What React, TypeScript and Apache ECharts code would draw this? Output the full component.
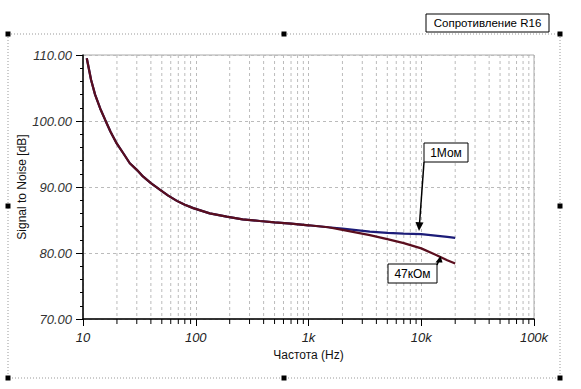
import React, { useEffect, useRef } from "react";
import * as echarts from "echarts";

// Frequency (Hz) and signal-to-noise (dB) readings
const commonFreq = [10.8, 11.8, 12.8, 14.2, 15.7, 17.5, 19.9, 23, 26, 30, 34, 40, 48, 57, 68, 80, 95, 133, 188, 260, 370, 500, 700, 1000, 1500];
const commonSnr = [109.5, 106.2, 104.0, 101.9, 100.2, 98.4, 96.6, 95.0, 93.6, 92.6, 91.6, 90.6, 89.6, 88.7, 87.9, 87.3, 86.8, 86.0, 85.5, 85.1, 84.85, 84.65, 84.45, 84.2, 83.9];

const tailFreq = [2000, 3500, 5000, 7000, 10000, 14000, 17000, 20000];
const snr1MOhm = [83.7, 83.25, 83.05, 82.95, 82.85, 82.6, 82.45, 82.3];
const snr47kOhm = [83.5, 82.7, 82.1, 81.5, 80.7, 79.6, 78.9, 78.4];

const yTicks = [70, 80, 90, 100, 110];
const minorFreqs: number[] = [];
[10, 100, 1000, 10000].forEach((d) => {
  for (let k = 2; k <= 9; k++) minorFreqs.push(k * d);
});

const FONT = "'Liberation Sans', Arial, sans-serif";

export default function App() {
  const ref = useRef<HTMLDivElement>(null);
  useEffect(() => {
    document.body.style.margin = "0";
    const chart = echarts.init(ref.current!, null, { renderer: "svg" });
    const common = commonFreq.map((f, i) => [f, commonSnr[i]]);
    const blue = common.concat(tailFreq.map((f, i) => [f, snr1MOhm[i]]));
    const red = common.concat(tailFreq.map((f, i) => [f, snr47kOhm[i]]));

    const handles = [
      [8, 34], [284, 34], [560, 34], [8, 206], [560, 206], [8, 378], [284, 378], [560, 378],
    ];

    chart.setOption({
      animation: false,
      backgroundColor: "#fff",
      grid: {
        left: 83, right: 47, top: 55, bottom: 70,
        show: true, borderColor: "#aaa", borderWidth: 1,
      },
      xAxis: {
        type: "log",
        logBase: 10,
        min: 10,
        max: 100000,
        splitNumber: 4,
        name: "Частота (Hz)",
        nameLocation: "middle",
        nameGap: 30,
        nameMoveOverlap: false,
        nameTextStyle: { fontFamily: FONT, fontSize: 12, color: "#111" },
        axisLine: { lineStyle: { color: "#000", width: 1.5 } },
        axisTick: { show: true, length: 7, lineStyle: { color: "#000" } },
        minorTick: { show: false },
        axisLabel: {
          fontFamily: FONT, fontSize: 13, fontStyle: "italic", color: "#222", margin: 12,
          formatter: (v: number) => (v >= 1000 ? v / 1000 + "k" : String(v)),
        },
        splitLine: { show: true, lineStyle: { color: "#bbb", type: [3, 3] } },
      },
      yAxis: {
        type: "value",
        min: 70,
        max: 110,
        interval: 10,
        name: "Signal to Noise [dB]",
        nameLocation: "middle",
        nameGap: 55,
        nameMoveOverlap: false,
        nameTextStyle: { fontFamily: FONT, fontSize: 12, color: "#111" },
        axisLine: { show: true, lineStyle: { color: "#000", width: 1.5 } },
        axisTick: { show: true, length: 7, lineStyle: { color: "#000" } },
        minorTick: { show: true, splitNumber: 5, length: 3, lineStyle: { color: "#000" } },
        axisLabel: {
          fontFamily: FONT, fontSize: 13, fontStyle: "italic", color: "#333", margin: 11,
          formatter: (v: number) => (yTicks.includes(v) ? v.toFixed(2) : ""),
        },
        splitLine: { show: true, lineStyle: { color: "#bbb", type: [3, 3] } },
      },
      series: [
        {
          type: "custom",
          silent: true,
          clip: false,
          data: minorFreqs.map((f) => [f]),
          renderItem: (_p: any, api: any) => {
            const f = api.value(0);
            const top = api.coord([f, 110]);
            const bot = api.coord([f, 70]);
            return {
              type: "group",
              children: [
                {
                  type: "line",
                  shape: { x1: top[0], y1: top[1], x2: bot[0], y2: bot[1] },
                  style: { stroke: "#bbb", lineWidth: 1, lineDash: [3, 3] },
                },
                {
                  type: "line",
                  shape: { x1: bot[0], y1: bot[1], x2: bot[0], y2: bot[1] + 5 },
                  style: { stroke: "#000", lineWidth: 1 },
                },
              ],
            };
          },
        },
        {
          type: "line",
          name: "1Мом",
          data: blue,
          showSymbol: false,
          lineStyle: { color: "#1c1c78", width: 2.2 },
          z: 3,
        },
        {
          type: "line",
          name: "47кОм",
          data: red,
          showSymbol: false,
          lineStyle: { color: "#5a0e1e", width: 2.2 },
          z: 4,
        },
      ],
      graphic: [
        {
          type: "rect",
          shape: { x: 8, y: 34, width: 552, height: 344 },
          style: { fill: "none", stroke: "#999", lineWidth: 1, lineDash: [1, 2] },
          silent: true,
          z: 0,
        },
        ...handles.map(([x, y]) => ({
          type: "rect",
          shape: { x: x - 2.5, y: y - 2.5, width: 5, height: 5 },
          style: { fill: "#000" },
          z: 10,
        })),
        {
          type: "rect",
          shape: { x: 426, y: 14, width: 123, height: 18 },
          style: { fill: "#fff", stroke: "#000", lineWidth: 1 },
          z: 10,
        },
        {
          type: "text",
          x: 487.5, y: 23,
          style: { text: "Сопротивление R16", fontFamily: FONT, fontSize: 11.5, fill: "#000", align: "center", verticalAlign: "middle" },
          z: 11,
        },
        {
          type: "rect",
          shape: { x: 424, y: 143, width: 44, height: 19 },
          style: { fill: "#fff", stroke: "#000", lineWidth: 1 },
          z: 10,
        },
        {
          type: "text",
          x: 446, y: 152.5,
          style: { text: "1Мом", fontFamily: FONT, fontSize: 12, fill: "#000", align: "center", verticalAlign: "middle" },
          z: 11,
        },
        {
          type: "line",
          shape: { x1: 424, y1: 162, x2: 419.5, y2: 224 },
          style: { stroke: "#000", lineWidth: 1.5 },
          z: 10,
        },
        {
          type: "polygon",
          shape: { points: [[415.5, 222], [423.5, 222.5], [419, 231]] },
          style: { fill: "#000" },
          z: 10,
        },
        {
          type: "rect",
          shape: { x: 388, y: 264, width: 49, height: 19 },
          style: { fill: "#fff", stroke: "#000", lineWidth: 1 },
          z: 10,
        },
        {
          type: "text",
          x: 412.5, y: 273.5,
          style: { text: "47кОм", fontFamily: FONT, fontSize: 12, fill: "#000", align: "center", verticalAlign: "middle" },
          z: 11,
        },
        {
          type: "line",
          shape: { x1: 437, y1: 265, x2: 439, y2: 260 },
          style: { stroke: "#000", lineWidth: 1.5 },
          z: 10,
        },
        {
          type: "polygon",
          shape: { points: [[435.5, 262.5], [442.5, 262.5], [440.5, 256]] },
          style: { fill: "#000" },
          z: 10,
        },
      ],
    });
    return () => chart.dispose();
  }, []);
  return (
    <div
      ref={ref}
      style={{ position: "fixed", left: 0, top: 0, width: 581, height: 389, background: "#fff" }}
    />
  );
}
